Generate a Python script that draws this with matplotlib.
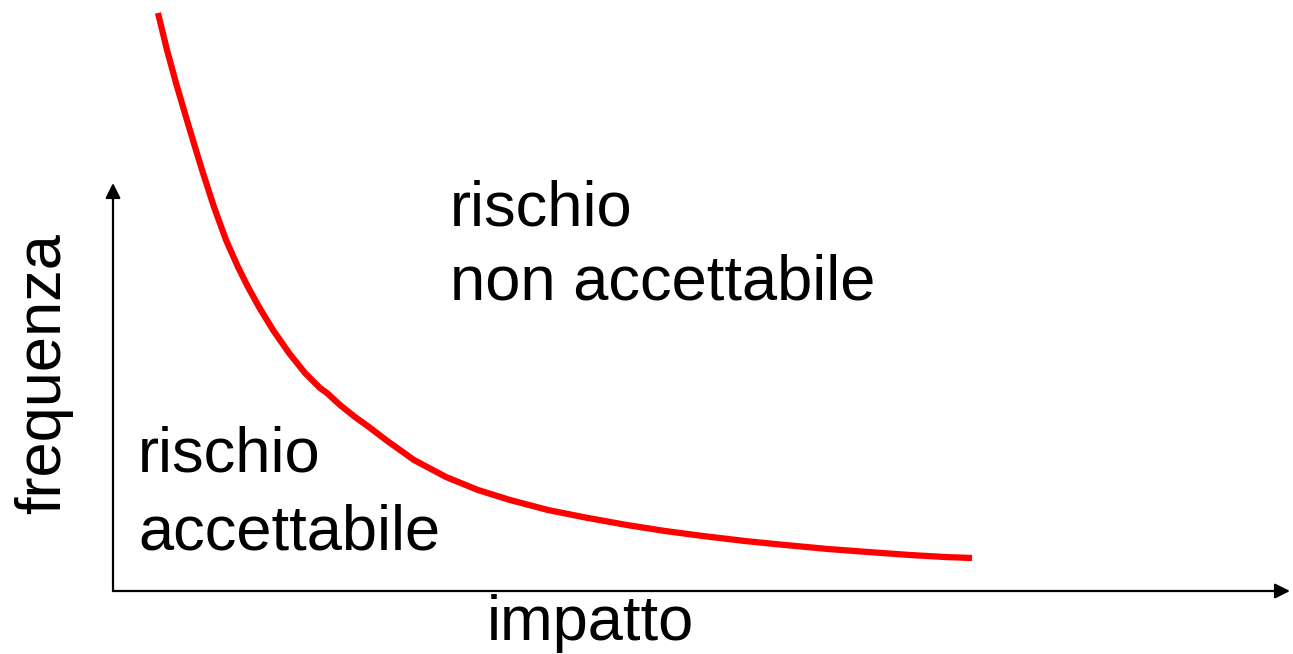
import matplotlib
matplotlib.use("Agg")
import matplotlib.pyplot as plt

# curve, in pixel-like units (converted to axes units below)
curve_px_x = [158, 167, 176, 186, 195, 203, 214, 226, 238, 248, 259, 273, 289, 305, 320, 327,
              340, 355, 369, 386, 414, 446, 478, 510, 548, 588, 627, 665, 703, 745, 785,
              828, 868, 910, 945, 972]
curve_px_y = [13, 50, 83, 117, 147, 173, 207, 240, 267, 287, 307, 330, 353, 373, 388, 393,
              405, 417, 427, 440, 460, 477, 490, 500, 510, 518, 525, 531, 536, 541, 545,
              549, 552, 555, 557, 558]
origin_x, origin_y = 113, 591
impatto = [v - origin_x for v in curve_px_x]
frequenza = [origin_y - v for v in curve_px_y]

x_label = "impatto"
y_label = "frequenza"

fig = plt.figure(figsize=(12.93, 6.54), dpi=100)
ax = fig.add_axes([0, 0, 1, 1])
ax.set_xlim(-113, 1180)
ax.set_ylim(-63, 591)
ax.axis("off")

fam = ["Liberation Sans", "DejaVu Sans"]
fs = 45.5

ax.plot(impatto, frequenza, color="#ff0000", lw=4.5, solid_capstyle="butt", solid_joinstyle="round")

arrow = dict(arrowstyle="-|>,head_length=0.9,head_width=0.45", color="black", lw=1.6, shrinkA=0, shrinkB=0)
ax.annotate("", xy=(1177, 0), xytext=(0, 0), arrowprops=arrow)
ax.annotate("", xy=(0, 408), xytext=(0, 0), arrowprops=arrow)

ax.text(337, 366, "rischio", fontsize=fs, family=fam, ha="left", va="baseline")
ax.text(337, 291, "non accettabile", fontsize=fs, family=fam, ha="left", va="baseline")
ax.text(25, 119, "rischio", fontsize=fs, family=fam, ha="left", va="baseline")
ax.text(25, 41, "accettabile", fontsize=fs, family=fam, ha="left", va="baseline")
ax.text(477, -49, x_label, fontsize=fs, family=fam, ha="center", va="baseline")
ax.text(-69, 217, y_label, fontsize=fs, family=fam, ha="center", va="center", rotation=90)

fig.savefig("out.png", dpi=100)
